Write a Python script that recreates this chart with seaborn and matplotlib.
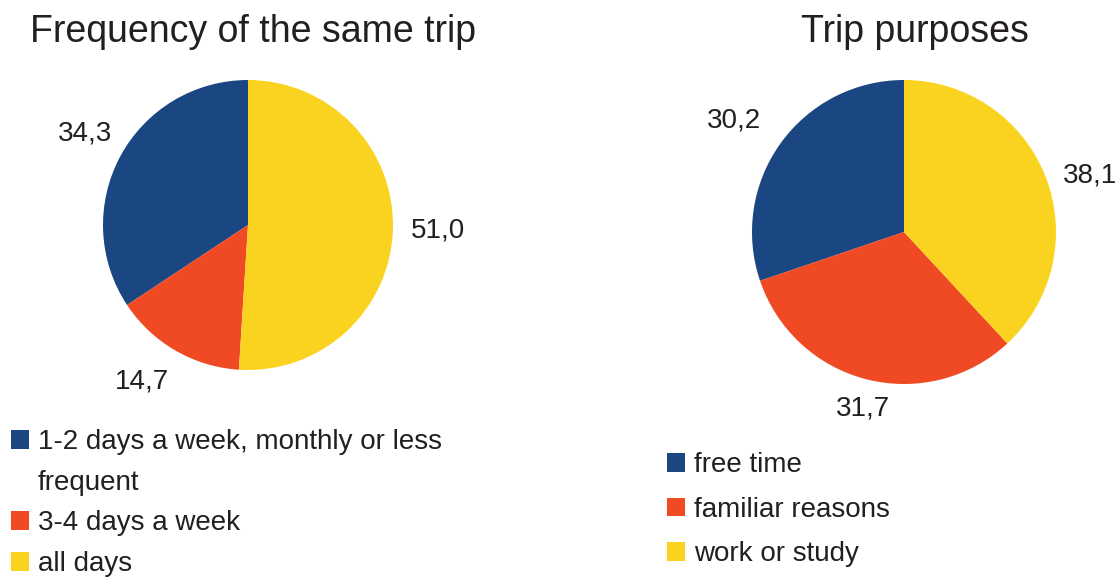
import numpy as np
import matplotlib.pyplot as plt
from matplotlib.patches import Patch
import seaborn as sns

# data
freq_title = "Frequency of the same trip"
freq_labels = ["1-2 days a week, monthly or less\nfrequent", "3-4 days a week", "all days"]
freq_values = [34.3, 14.7, 51.0]

purpose_title = "Trip purposes"
purpose_labels = ["free time", "familiar reasons", "work or study"]
purpose_values = [30.2, 31.7, 38.1]

colors = ["#1a4682", "#ef4a24", "#fad321"]
text_col = "#231f20"

sns.set_style("white")
plt.rcParams['font.family'] = ['Liberation Sans', 'DejaVu Sans']

W, H = 1120, 577
fig = plt.figure(figsize=(W / 100, H / 100), dpi=100)


def pie_axes(cx, cy, r):
    # axes spanning +-1.5 data units around the pie centre (pixel coords, y from top)
    half = 1.5 * r
    return fig.add_axes([(cx - half) / W, (H - cy - half) / H, 2 * half / W, 2 * half / H])


def draw_pie(ax, values, dists, nudges):
    labels = [f"{v:.1f}".replace('.', ',') for v in values]
    wedges, texts = ax.pie(values, colors=colors, startangle=90, counterclock=True,
                           labels=labels, wedgeprops=dict(linewidth=0),
                           textprops=dict(fontsize=20, color=text_col))
    for w, t, d, n in zip(wedges, texts, dists, nudges):
        ang = np.deg2rad((w.theta1 + w.theta2) / 2 + n)
        t.set_position((d * np.cos(ang), d * np.sin(ang)))
        t.set_ha('center')
        t.set_va('center')
    ax.set_xlim(-1.5, 1.5)
    ax.set_ylim(-1.5, 1.5)
    ax.set_aspect('equal')
    ax.axis('off')
    return wedges


def draw_legend(labels, x, y, spacing):
    # wrapped labels get one row per line, the marker only on the first one
    handles, rows = [], []
    for c, lab in zip(colors, labels):
        for i, line in enumerate(lab.split("\n")):
            handles.append(Patch(facecolor=c if i == 0 else 'none', edgecolor='none'))
            rows.append(line)
    leg = fig.legend(handles, rows, loc='upper left', bbox_to_anchor=(x / W, 1 - y / H),
                     frameon=False, fontsize=20, handlelength=0.65, handleheight=0.65,
                     handletextpad=0.32, labelspacing=spacing, borderpad=0, borderaxespad=0,
                     labelcolor=text_col)
    return leg


ax1 = pie_axes(248, 225, 145)
draw_pie(ax1, freq_values, [1.29, 1.3, 1.31], [-1, -4, 0])
fig.text(253 / W, 1 - 32 / H, freq_title, ha='center', va='center', fontsize=27, color=text_col)
draw_legend(freq_labels, 11, 429, 0.53)

ax2 = pie_axes(904, 232, 152)
draw_pie(ax2, purpose_values, [1.34, 1.19, 1.28], [2.4, 1, -4.4])
fig.text(915 / W, 1 - 32 / H, purpose_title, ha='center', va='center', fontsize=27, color=text_col)
draw_legend(purpose_labels, 667, 452, 0.67)

fig.savefig("out.png", dpi=100, facecolor='white')
